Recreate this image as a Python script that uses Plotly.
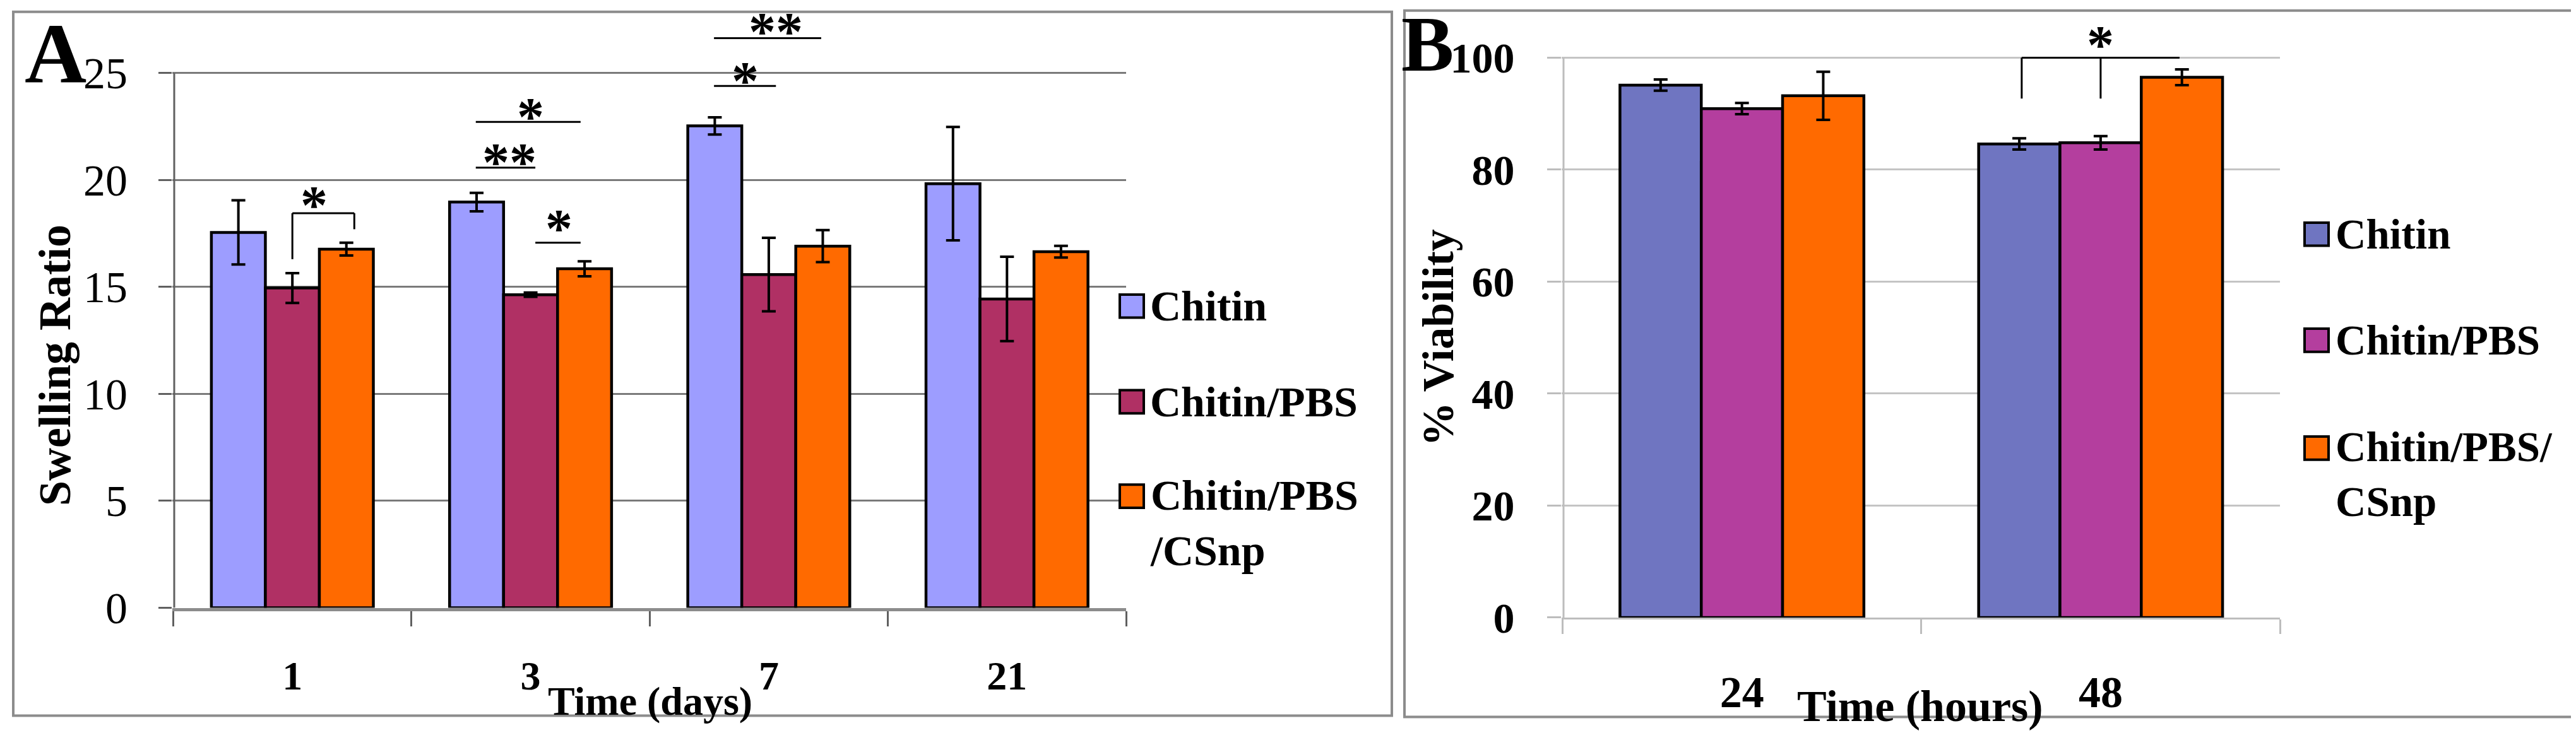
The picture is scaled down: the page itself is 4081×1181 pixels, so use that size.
import plotly.graph_objects as go

# ---- panel A: swelling ratio ----
days = ["1", "3", "7", "21"]
chitin_swell = [17.55, 18.97, 22.53, 19.83]
chitin_swell_err = [1.5, 0.43, 0.4, 2.65]
pbs_swell = [14.95, 14.64, 15.58, 14.44]
pbs_swell_err = [0.7, 0.1, 1.72, 1.97]
csnp_swell = [16.77, 15.85, 16.91, 16.65]
csnp_swell_err = [0.3, 0.35, 0.75, 0.27]
swell_ticks = [0, 5, 10, 15, 20, 25]

# ---- panel B: viability ----
hours = ["24", "48"]
chitin_via = [95.1, 84.6]
chitin_via_err = [1.0, 1.0]
pbs_via = [90.9, 84.8]
pbs_via_err = [1.0, 1.2]
csnp_via = [93.2, 96.5]
csnp_via_err = [4.3, 1.4]
via_ticks = [0, 20, 40, 60, 80, 100]

names_a = ["Chitin", "Chitin/PBS", "Chitin/PBS<br>/CSnp"]
names_b = ["Chitin", "Chitin/PBS", "Chitin/PBS/<br>CSnp"]

# significance marks: category, span start, span end, span height,
# legs (offset, lower end), label, label offset, label height
swell_marks = [
    (0, 0.0, 0.26, 18.45, [(0.0, 16.3), (0.26, 17.7)], "*", 0.09, 19.24),
    (1, -0.23, 0.02, 20.58, [], "**", -0.09, 21.25),
    (1, -0.23, 0.21, 22.72, [], "*", 0.0, 23.37),
    (1, 0.02, 0.21, 17.07, [], "*", 0.12, 18.15),
    (2, -0.23, 0.22, 26.63, [], "**", 0.03, 27.37),
    (2, -0.23, 0.03, 24.4, [], "*", -0.10, 25.07),
]
via_marks = [
    (1, -0.22, 0.22, 100.0, [(-0.22, 92.7), (0.0, 92.7)], "*", 0.0, 103.9),
]

colors_a = ["#9D9DFF", "#B03064", "#FF6A00"]
colors_b = ["#6F75C1", "#B43E9E", "#FF6A00"]

FONT = "Liberation Serif"
W, H = 4081, 1181


def px(x):
    return x / W


def py(y):
    return 1 - y / H


fig = go.Figure()


def add_bars(cats, values, errors, colors, xa, ya):
    for vals, errs, col in zip(values, errors, colors):
        fig.add_trace(go.Bar(
            x=cats, y=vals, xaxis=xa, yaxis=ya, showlegend=False,
            marker=dict(color=col, line=dict(color="black", width=4.5)),
            error_y=dict(type="data", array=errs, color="black",
                         thickness=4, width=11),
        ))


add_bars(days, [chitin_swell, pbs_swell, csnp_swell],
         [chitin_swell_err, pbs_swell_err, csnp_swell_err], colors_a, "x", "y")
add_bars(hours, [chitin_via, pbs_via, csnp_via],
         [chitin_via_err, pbs_via_err, csnp_via_err], colors_b, "x2", "y2")

shapes = []
annotations = []


def add_marks(marks, xref, yref):
    for cat, x0, x1, y, legs, label, lx, ly in marks:
        shapes.append(dict(type="line", xref=xref, yref=yref, x0=cat + x0, x1=cat + x1,
                           y0=y, y1=y, line=dict(color="black", width=3)))
        for off, low in legs:
            shapes.append(dict(type="line", xref=xref, yref=yref, x0=cat + off, x1=cat + off,
                               y0=low, y1=y, line=dict(color="black", width=3)))
        annotations.append(dict(text=label, xref=xref, yref=yref, x=cat + lx, y=ly,
                                xanchor="center", yanchor="middle",
                                showarrow=False, yshift=-14,
                                font=dict(family=FONT, size=86, color="black",
                                          weight="bold")))


add_marks(swell_marks, "x", "y")
add_marks(via_marks, "x2", "y2")

# y axis lines (stop at the top tick)
shapes.append(dict(type="line", xref="x", yref="y", xsizemode="pixel", xanchor=-0.5,
                   x0=1.5, x1=1.5, y0=0, y1=swell_ticks[-1],
                   line=dict(color="#606060", width=3)))
shapes.append(dict(type="line", xref="x2", yref="y2", xsizemode="pixel", xanchor=-0.5,
                   x0=1.5, x1=1.5, y0=0, y1=via_ticks[-1],
                   line=dict(color="#bdbdbd", width=3)))

# panel frames
shapes.append(dict(type="rect", xref="paper", yref="paper", x0=px(13), x1=px(2197),
                   y0=py(1166), y1=py(11), line=dict(color="#8c8c8c", width=4)))
shapes.append(dict(type="rect", xref="paper", yref="paper", x0=px(2217), x1=px(4072),
                   y0=py(1168), y1=py(9), line=dict(color="#8c8c8c", width=4)))


# hand-made legends with large keys
def add_legend(names, colors, key_x, text_x, centers, size):
    for name, col, cy in zip(names, colors, centers):
        shapes.append(dict(type="rect", xref="paper", yref="paper",
                           x0=px(key_x), x1=px(key_x + 38), y0=py(cy + 19), y1=py(cy - 19),
                           fillcolor=col, line=dict(color="black", width=4)))
        two = "<br>" in name
        annotations.append(dict(text=name, xref="paper", yref="paper", x=px(text_x),
                                y=py(cy), xanchor="left", yanchor="top" if two else "middle",
                                yshift=size * 0.62 if two else 0, align="left",
                                showarrow=False,
                                font=dict(family=FONT, size=size, color="black", weight="bold")))


add_legend(names_a, colors_a, 1766, 1812, [494, 651, 806], 68)
add_legend(names_b, colors_b, 3643, 3690, [376, 550, 727], 67)

bold = dict(family=FONT, color="black", weight="bold")
annotations += [
    dict(text="A", x=px(80), y=py(80), font=dict(size=136, **bold)),
    dict(text="B", x=px(2253), y=py(64), font=dict(size=125, **bold)),
    dict(text="Swelling Ratio", x=px(79), y=py(591), textangle=-90, font=dict(size=72, **bold)),
    dict(text="Time (days)", x=px(1022), y=py(1142), font=dict(size=64, **bold)),
    dict(text="% Viability", x=px(2271), y=py(546), textangle=-90, font=dict(size=70, **bold)),
    dict(text="Time (hours)", x=px(3034), y=py(1150), font=dict(size=70, **bold)),
]
for a in annotations[-6:]:
    a.update(xref="paper", yref="paper", showarrow=False, xanchor="center", yanchor="middle")

fig.update_layout(
    width=W, height=H,
    margin=dict(l=0, r=0, t=0, b=0),
    paper_bgcolor="white", plot_bgcolor="white",
    barmode="group", bargap=0.32, bargroupgap=0,
    font=dict(family=FONT, color="black"),
    shapes=shapes, annotations=annotations,
    xaxis=dict(domain=[px(265), px(1776)], anchor="y", type="category",
               showline=True, linecolor="#8c8c8c", linewidth=5,
               ticks="outside", tickson="boundaries", ticklen=24, tickwidth=3,
               tickcolor="#606060", ticklabelstandoff=48,
               tickfont=dict(size=64, **bold), showgrid=False),
    yaxis=dict(domain=[py(989), py(12)], anchor="x", range=[0, 27.84],
               tickvals=swell_ticks, ticks="outside", ticklen=21, tickwidth=3,
               tickcolor="#606060", gridcolor="#7a7a7a", gridwidth=3,
               zeroline=False, showline=False, ticklabelstandoff=35,
               tickfont=dict(family=FONT, size=70, color="black")),
    xaxis2=dict(domain=[px(2466), px(3604)], anchor="y2", type="category",
                showline=True, linecolor="#bdbdbd", linewidth=3,
                ticks="outside", tickson="boundaries", ticklen=23, tickwidth=3,
                tickcolor="#bdbdbd", ticklabelstandoff=55,
                tickfont=dict(size=70, **bold), showgrid=False),
    yaxis2=dict(domain=[py(1005), py(12)], anchor="x2", range=[0, 108.1],
                tickvals=via_ticks, ticks="outside", ticklen=22, tickwidth=3,
                tickcolor="#bdbdbd", gridcolor="#c4c4c4", gridwidth=3,
                zeroline=False, showline=False, ticklabelstandoff=38,
                tickfont=dict(size=68, **bold)),
)

fig.write_html("out.html")
